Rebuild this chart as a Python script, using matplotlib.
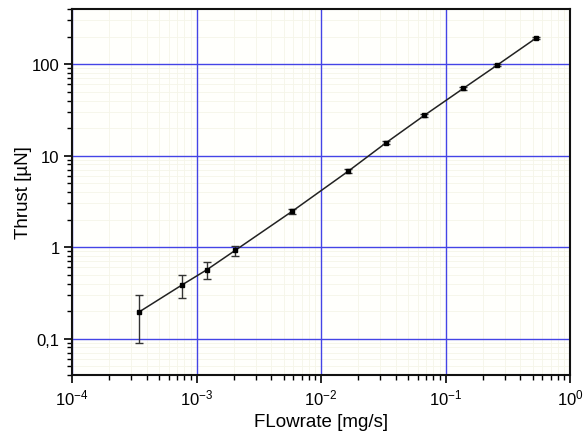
import matplotlib
matplotlib.use("Agg")
import matplotlib.pyplot as plt
from matplotlib.ticker import LogLocator, FixedLocator, FixedFormatter, NullFormatter

plt.rcParams['font.family'] = ['Liberation Sans', 'DejaVu Sans']
plt.rcParams['mathtext.fontset'] = 'custom'
plt.rcParams['mathtext.rm'] = 'Liberation Sans'
plt.rcParams['mathtext.it'] = 'Liberation Sans'

# Measured flow rate [mg/s] and thrust [uN] with uncertainties
flowrate = [3.45e-4, 7.7e-4, 1.21e-3, 2.04e-3, 5.89e-3, 0.01655, 0.0333, 0.0676, 0.139, 0.258, 0.533]
thrust = [0.195, 0.388, 0.565, 0.918, 2.47, 6.75, 13.8, 27.5, 54.2, 96.7, 192.0]
thrust_err = [0.105, 0.11, 0.12, 0.11, 0.15, 0.3, 0.5, 0.8, 1.5, 2.5, 5.0]

x_ticks = [1e-4, 1e-3, 1e-2, 1e-1, 1e0]
x_labels = [r'$10^{-4}$', r'$10^{-3}$', r'$10^{-2}$', r'$10^{-1}$', r'$10^{0}$']
y_ticks = [0.1, 1, 10, 100]
y_labels = ['0,1', '1', '10', '100']

fig = plt.figure(figsize=(5.84, 4.39), dpi=100)
ax = fig.add_axes([72/584, 63/439, 498/584, 366/439])
ax.set_facecolor('#fffffc')

ax.set_xscale('log')
ax.set_yscale('log')
ax.set_xlim(1e-4, 1e0)
ax.set_ylim(0.04, 400)

# faint minor grid, solid blue grid at the decades drawn on top of it
ax.grid(True, which='minor', color='#f5f5e8', linewidth=0.6)
ax.grid(False, which='major')
for xv in x_ticks:
    ax.axvline(xv, color='#4444e6', linewidth=1.0, zorder=2)
for yv in y_ticks:
    ax.axhline(yv, color='#4444e6', linewidth=1.0, zorder=2)

ax.errorbar(flowrate, thrust, yerr=thrust_err, fmt='s', color='black',
            ecolor='#333333', elinewidth=1.0, capsize=3, capthick=1.0,
            markersize=3.5, zorder=4)
ax.plot(flowrate, thrust, color='#222222', linewidth=1.1, zorder=3)

ax.xaxis.set_major_locator(FixedLocator(x_ticks))
ax.xaxis.set_major_formatter(FixedFormatter(x_labels))
ax.xaxis.set_minor_locator(LogLocator(base=10, subs=range(2, 10)))
ax.xaxis.set_minor_formatter(NullFormatter())
ax.yaxis.set_major_locator(FixedLocator(y_ticks))
ax.yaxis.set_major_formatter(FixedFormatter(y_labels))
ax.yaxis.set_minor_locator(LogLocator(base=10, subs=range(2, 10)))
ax.yaxis.set_minor_formatter(NullFormatter())

ax.tick_params(which='major', direction='out', length=6, width=1.2, labelsize=12, pad=3)
ax.tick_params(which='minor', direction='out', length=3.5, width=1.0)

for s in ax.spines.values():
    s.set_linewidth(1.5)
    s.set_color('#111111')
    s.set_zorder(5)

ax.set_xlabel('FLowrate [mg/s]', fontsize=13.5, labelpad=4)
ax.set_ylabel('Thrust [µN]', fontsize=13.5, labelpad=0)

fig.savefig('out.png', dpi=100)
